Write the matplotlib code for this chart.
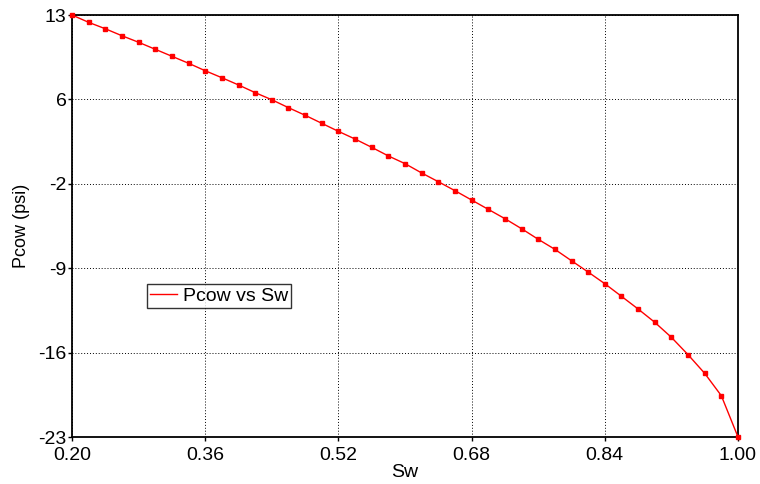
import matplotlib
matplotlib.use("Agg")
import matplotlib.pyplot as plt
import numpy as np

plt.rcParams['font.family'] = ['Liberation Sans', 'DejaVu Sans']

# Water saturation and oil-water capillary pressure
sw = [0.20, 0.22, 0.24, 0.26, 0.28, 0.30, 0.32, 0.34, 0.36, 0.38,
      0.40, 0.42, 0.44, 0.46, 0.48, 0.50, 0.52, 0.54, 0.56, 0.58,
      0.60, 0.62, 0.64, 0.66, 0.68, 0.70, 0.72, 0.74, 0.76, 0.78,
      0.80, 0.82, 0.84, 0.86, 0.88, 0.90, 0.92, 0.94, 0.96, 0.98, 1.00]
pcow = [12.90, 12.27, 11.72, 11.12, 10.56, 9.96, 9.36, 8.76, 8.12, 7.52,
        6.90, 6.24, 5.63, 4.95, 4.30, 3.61, 2.92, 2.26, 1.55, 0.81,
        0.15, -0.65, -1.40, -2.17, -2.97, -3.77, -4.57, -5.43, -6.34, -7.20,
        -8.18, -9.15, -10.15, -11.23, -12.32, -13.46, -14.75, -16.24, -17.84, -19.76,
        -23.30]

x_ticks = [0.20, 0.36, 0.52, 0.68, 0.84, 1.00]
x_labels = ["0.20", "0.36", "0.52", "0.68", "0.84", "1.00"]
y_lim = (-23.3, 12.9)
y_labels = ["-23", "-16", "-9", "-2", "6", "13"]

fs = 14

fig = plt.figure(figsize=(7.6, 4.84), dpi=100)
ax = fig.add_axes([72 / 760, 1 - 437 / 484, 666 / 760, 422 / 484])

ax.plot(sw, pcow, color='red', lw=1.0, label='Pcow vs Sw', zorder=3)
ax.plot(sw, pcow, ls='none', marker='s', ms=3.2, color='red', mec='red', zorder=4,
        clip_on=False)

ax.set_xlim(0.2, 1.0)
ax.set_ylim(*y_lim)
ax.set_xticks(x_ticks)
ax.set_xticklabels(x_labels)
ax.set_yticks(np.linspace(y_lim[0], y_lim[1], len(y_labels)))
ax.set_yticklabels(y_labels)

ax.grid(True, color='black', ls=(0, (1, 2)), lw=0.7)
ax.tick_params(direction='out', length=3, width=1, labelsize=fs)
ax.tick_params(axis='x', pad=4)
ax.tick_params(axis='y', pad=1)
for s in ax.spines.values():
    s.set_linewidth(1.3)
    s.set_color('black')

ax.set_xlabel('Sw', fontsize=fs, labelpad=0)
ax.set_ylabel('Pcow (psi)', fontsize=13, labelpad=6)

leg = ax.legend(loc='upper left', bbox_to_anchor=(0.112, 0.362), fontsize=fs,
                frameon=True, fancybox=False, handlelength=1.4,
                handletextpad=0.3, borderpad=0.15, borderaxespad=0)
leg.get_frame().set_edgecolor('black')
leg.get_frame().set_linewidth(1.0)

fig.savefig('out.png', dpi=100)
